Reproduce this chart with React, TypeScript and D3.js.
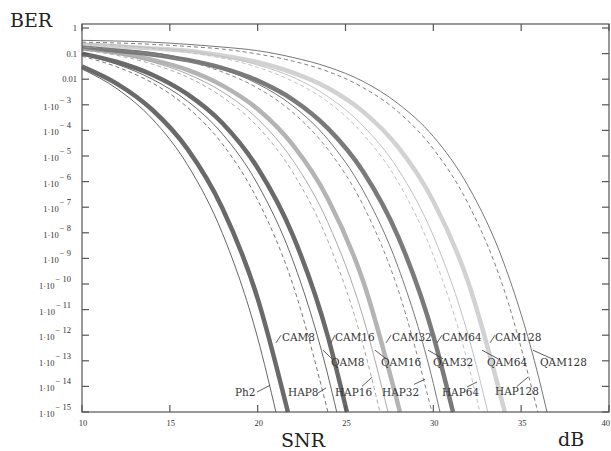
import React, { useRef, useEffect } from 'react';
import * as d3 from 'd3';

const width = 611;
const height = 451;

// SNR (dB) and BER points, one pair of arrays per curve
const snrPh2 = [10, 12, 14, 16, 18, 20, 21.04];
const berPh2 = [0.025, 4.2e-3, 2.8e-4, 4.6e-6, 9.3e-9, 7.8e-13, 1e-15];

const snrCAM8 = [10, 12, 14, 16, 18, 20, 21.72];
const berCAM8 = [0.031, 6.6e-3, 6.4e-4, 1.9e-5, 8.9e-8, 2.7e-11, 1e-15];
const snrHAP8 = [10, 12, 14, 16, 18, 20, 22, 24];
const berHAP8 = [0.079, 0.03, 7.2e-3, 8.0e-4, 2.9e-5, 1.9e-7, 9.7e-11, 1e-15];
const snrQAM8 = [10, 12, 14, 16, 18, 20, 22, 24, 24.5];
const berQAM8 = [0.089, 0.038, 0.01, 1.4e-3, 7.2e-5, 7.9e-7, 8.5e-10, 2.7e-14, 1e-15];

const snrCAM16 = [10, 12, 14, 16, 18, 20, 22, 24, 25.08];
const berCAM16 = [0.1, 0.047, 0.015, 2.6e-3, 1.9e-4, 3.4e-6, 8.1e-9, 8.7e-13, 1e-15];
const snrHAP16 = [10, 12, 14, 16, 18, 20, 22, 24, 26, 26.96];
const berHAP16 = [0.14, 0.085, 0.039, 0.012, 2.0e-3, 1.4e-4, 2.3e-6, 4.8e-9, 4.2e-13, 1e-15];
const snrQAM16 = [10, 12, 14, 16, 18, 20, 22, 24, 26, 27.42];
const berQAM16 = [0.15, 0.095, 0.047, 0.016, 3.2e-3, 2.8e-4, 6.8e-6, 2.5e-8, 5.1e-12, 1e-15];

const snrCAM32 = [10, 12, 14, 16, 18, 20, 22, 24, 26, 28.1];
const berCAM32 = [0.16, 0.11, 0.057, 0.023, 5.6e-3, 6.8e-4, 2.7e-5, 2.1e-7, 1.3e-10, 1e-15];
const snrHAP32 = [10, 12, 14, 16, 18, 20, 22, 24, 26, 28, 29.92];
const berHAP32 = [0.19, 0.14, 0.095, 0.05, 0.019, 4.5e-3, 5.0e-4, 1.8e-5, 1.2e-7, 5.8e-11, 1e-15];
const snrQAM32 = [10, 12, 14, 16, 18, 20, 22, 24, 26, 28, 30, 30.38];
const berQAM32 = [0.2, 0.15, 0.11, 0.06, 0.025, 6.6e-3, 9.1e-4, 4.4e-5, 4.5e-7, 4.5e-10, 1.3e-14, 1e-15];

const snrCAM64 = [10, 12, 14, 16, 18, 20, 22, 24, 26, 28, 30, 31.12];
const berCAM64 = [0.16, 0.13, 0.093, 0.056, 0.027, 8.8e-3, 1.6e-3, 1.2e-4, 2.5e-6, 7.0e-9, 9.5e-13, 1e-15];
const snrHAP64 = [10, 12, 14, 16, 18, 20, 22, 24, 26, 28, 30, 32, 32.65];
const berHAP64 = [0.24, 0.2, 0.16, 0.11, 0.066, 0.029, 8.3e-3, 1.3e-3, 7.1e-5, 9.5e-7, 1.3e-9, 6.8e-14, 1e-15];
const snrQAM64 = [10, 12, 14, 16, 18, 20, 22, 24, 26, 28, 30, 32, 33.1];
const berQAM64 = [0.25, 0.22, 0.17, 0.13, 0.077, 0.036, 0.012, 2.1e-3, 1.5e-4, 3.0e-6, 7.6e-9, 9.1e-13, 1e-15];

const snrCAM128 = [10, 12, 14, 16, 18, 20, 22, 24, 26, 28, 30, 32, 34.07];
const berCAM128 = [0.22, 0.19, 0.16, 0.13, 0.083, 0.046, 0.018, 4.5e-3, 5.4e-4, 2.2e-5, 1.7e-7, 1.1e-10, 1e-15];
const snrHAP128 = [10, 12, 14, 16, 18, 20, 22, 24, 26, 28, 30, 32, 34, 35.95];
const berHAP128 = [0.28, 0.26, 0.23, 0.19, 0.15, 0.096, 0.051, 0.02, 4.7e-3, 5.3e-4, 1.9e-5, 1.3e-7, 6.8e-11, 1e-15];
const snrQAM128 = [10, 12, 14, 16, 18, 20, 22, 24, 26, 28, 30, 32, 34, 36, 36.47];
const berQAM128 = [0.33, 0.31, 0.28, 0.23, 0.18, 0.13, 0.071, 0.03, 8.2e-3, 1.1e-3, 5.8e-5, 6.4e-7, 7.0e-10, 2.2e-14, 1e-15];

const xTicks = [10, 15, 20, 25, 30, 35, 40];
const yExponents = [0, -1, -2, -3, -4, -5, -6, -7, -8, -9, -10, -11, -12, -13, -14, -15];

// label text, where the text starts [snr, ber], leader [snr, ber, snr, ber]
const curveLabels = [
  { text: 'CAM8', at: [21.38, 5.9e-13], lead: [21.04, 5.0e-13, 21.33, 1.0e-12] },
  { text: 'CAM16', at: [24.4, 5.9e-13], lead: [24.17, 5.0e-13, 24.4, 1.0e-12] },
  { text: 'CAM32', at: [27.65, 5.9e-13], lead: [27.31, 5.0e-13, 27.59, 1.0e-12] },
  { text: 'CAM64', at: [30.49, 5.9e-13], lead: [30.21, 5.0e-13, 30.49, 1.0e-12] },
  { text: 'CAM128', at: [33.51, 5.9e-13], lead: [33.23, 5.0e-13, 33.51, 1.0e-12] },
  { text: 'QAM8', at: [24.17, 6.3e-14], lead: [23.72, 2.6e-13, 24.23, 1.2e-13] },
  { text: 'QAM16', at: [27.02, 6.3e-14], lead: [26.68, 2.6e-13, 27.31, 1.2e-13] },
  { text: 'QAM32', at: [29.98, 6.3e-14], lead: [29.7, 2.6e-13, 30.55, 1.2e-13] },
  { text: 'QAM64', at: [33.05, 6.3e-14], lead: [32.77, 2.6e-13, 33.68, 1.2e-13] },
  { text: 'QAM128', at: [36.07, 6.3e-14], lead: [35.67, 2.6e-13, 36.75, 1.2e-13] },
  { text: 'Ph2', at: [18.71, 4.2e-15], lead: [19.96, 6.0e-15, 20.7, 1.1e-14] },
  { text: 'HAP8', at: [21.73, 4.2e-15], lead: [23.43, 5.5e-15, 23.89, 8.7e-15] },
  { text: 'HAP16', at: [24.4, 4.2e-15], lead: [25.94, 1.0e-14, 26.51, 2.3e-14] },
  { text: 'HAP32', at: [27.08, 4.2e-15], lead: [28.9, 1.2e-14, 29.53, 1.9e-14] },
  { text: 'HAP64', at: [30.49, 4.2e-15], lead: [31.92, 9.5e-15, 32.49, 1.5e-14] },
  { text: 'HAP128', at: [33.51, 4.6e-15], lead: [34.76, 1.0e-14, 35.39, 2.3e-14] },
];

const series = [
  { name: 'CAM8', snr: snrCAM8, ber: berCAM8, kind: 'thick', color: '#6a6a6a' },
  { name: 'CAM16', snr: snrCAM16, ber: berCAM16, kind: 'thick', color: '#6a6a6a' },
  { name: 'CAM32', snr: snrCAM32, ber: berCAM32, kind: 'thick', color: '#b4b4b4' },
  { name: 'CAM64', snr: snrCAM64, ber: berCAM64, kind: 'thick', color: '#7a7a7a' },
  { name: 'CAM128', snr: snrCAM128, ber: berCAM128, kind: 'thick', color: '#d2d2d2' },
  { name: 'Ph2', snr: snrPh2, ber: berPh2, kind: 'thin', color: '#666' },
  { name: 'HAP8', snr: snrHAP8, ber: berHAP8, kind: 'dash', color: '#777' },
  { name: 'QAM8', snr: snrQAM8, ber: berQAM8, kind: 'thin', color: '#666' },
  { name: 'HAP16', snr: snrHAP16, ber: berHAP16, kind: 'dash', color: '#aaa' },
  { name: 'QAM16', snr: snrQAM16, ber: berQAM16, kind: 'thin', color: '#aaa' },
  { name: 'HAP32', snr: snrHAP32, ber: berHAP32, kind: 'dash', color: '#888' },
  { name: 'QAM32', snr: snrQAM32, ber: berQAM32, kind: 'thin', color: '#777' },
  { name: 'HAP64', snr: snrHAP64, ber: berHAP64, kind: 'dash', color: '#c2c2c2' },
  { name: 'QAM64', snr: snrQAM64, ber: berQAM64, kind: 'thin', color: '#c2c2c2' },
  { name: 'HAP128', snr: snrHAP128, ber: berHAP128, kind: 'dash', color: '#808080' },
  { name: 'QAM128', snr: snrQAM128, ber: berQAM128, kind: 'thin', color: '#777' },
];

function BerChart() {
  const ref = useRef<SVGSVGElement>(null);

  useEffect(() => {
    const svg = d3.select(ref.current);
    svg.selectAll('*').remove();

    const left = 82, right = 609, top = 24, bottom = 412;
    const x = d3.scaleLinear().domain([10, 40]).range([left, right]);
    const y = d3.scaleLog().domain([1e-15, 1]).range([bottom, 28]);

    const line = d3.line<number[]>()
      .x(d => x(d[0]))
      .y(d => y(d[1]))
      .curve(d3.curveMonotoneX);

    // curves
    series.forEach(s => {
      const pts = s.snr.map((v, i) => [v, s.ber[i]]);
      svg.append('path')
        .attr('d', line(pts))
        .attr('fill', 'none')
        .attr('stroke', s.color)
        .attr('stroke-width', s.kind === 'thick' ? 4.5 : 1)
        .attr('stroke-dasharray', s.kind === 'dash' ? '4,3' : null)
        .attr('stroke-linejoin', 'round');
    });

    // frame + ticks
    const axisColor = '#555';
    svg.append('rect')
      .attr('x', left).attr('y', top)
      .attr('width', right - left).attr('height', bottom - top)
      .attr('fill', 'none').attr('stroke', axisColor).attr('stroke-width', 1.2);

    xTicks.forEach((t, i) => {
      const last = i === xTicks.length - 1;
      svg.append('line').attr('x1', x(t)).attr('x2', x(t)).attr('y1', bottom).attr('y2', bottom - 7)
        .attr('stroke', axisColor).attr('stroke-width', 1.2);
      svg.append('line').attr('x1', x(t)).attr('x2', x(t)).attr('y1', top).attr('y2', top + 7)
        .attr('stroke', axisColor).attr('stroke-width', 1.2);
      // the last label sits at the page edge, keep it inside
      svg.append('text')
        .attr('x', last ? width - 1 : x(t) + 1).attr('y', bottom + 14)
        .attr('text-anchor', last ? 'end' : 'middle')
        .attr('font-family', 'Liberation Serif, serif')
        .attr('font-size', 8.5)
        .attr('fill', '#333')
        .text(t);
    });

    yExponents.forEach(e => {
      const v = Math.pow(10, e);
      svg.append('line').attr('x1', left).attr('x2', left + 7).attr('y1', y(v)).attr('y2', y(v))
        .attr('stroke', axisColor).attr('stroke-width', 1.2);
      svg.append('line').attr('x1', right).attr('x2', right - 7).attr('y1', y(v)).attr('y2', y(v))
        .attr('stroke', axisColor).attr('stroke-width', 1.2);
      const t = svg.append('text')
        .attr('text-anchor', 'end')
        .attr('font-family', 'Liberation Serif, serif')
        .attr('font-size', 8.5)
        .attr('fill', '#333');
      if (e > -3) {
        t.attr('x', left - 5).attr('y', y(v) + 3).text(e === 0 ? '1' : e === -1 ? '0.1' : '0.01');
      } else {
        t.attr('x', left - 11).attr('y', y(v) + 5);
        t.append('tspan').text('1\u00b710');
        t.append('tspan').attr('dy', -7).attr('dx', 1).text('\u2212 ' + String(-e));
      }
    });

    // curve labels with leaders
    curveLabels.forEach(l => {
      svg.append('line')
        .attr('x1', x(l.lead[0])).attr('y1', y(l.lead[1]))
        .attr('x2', x(l.lead[2])).attr('y2', y(l.lead[3]))
        .attr('stroke', '#333').attr('stroke-width', 0.8);
      svg.append('text')
        .attr('x', x(l.at[0])).attr('y', y(l.at[1]))
        .attr('font-family', 'DejaVu Serif, serif')
        .attr('font-size', 10.5)
        .attr('fill', '#333')
        .text(l.text);
    });

    // axis titles
    const title = (txt: string, tx: number, ty: number) =>
      svg.append('text').attr('x', tx).attr('y', ty)
        .attr('font-family', 'DejaVu Serif, serif')
        .attr('font-size', 19)
        .attr('fill', '#222')
        .text(txt);
    title('BER', 10, 27);
    title('SNR', 281, 447);
    title('dB', 558, 446);
  }, []);

  return <svg ref={ref} width={width} height={height} style={{ display: 'block' }} />;
}

export default function App() {
  return (
    <div style={{ position: 'absolute', left: 0, top: 0, background: '#fff' }}>
      <BerChart />
    </div>
  );
}
